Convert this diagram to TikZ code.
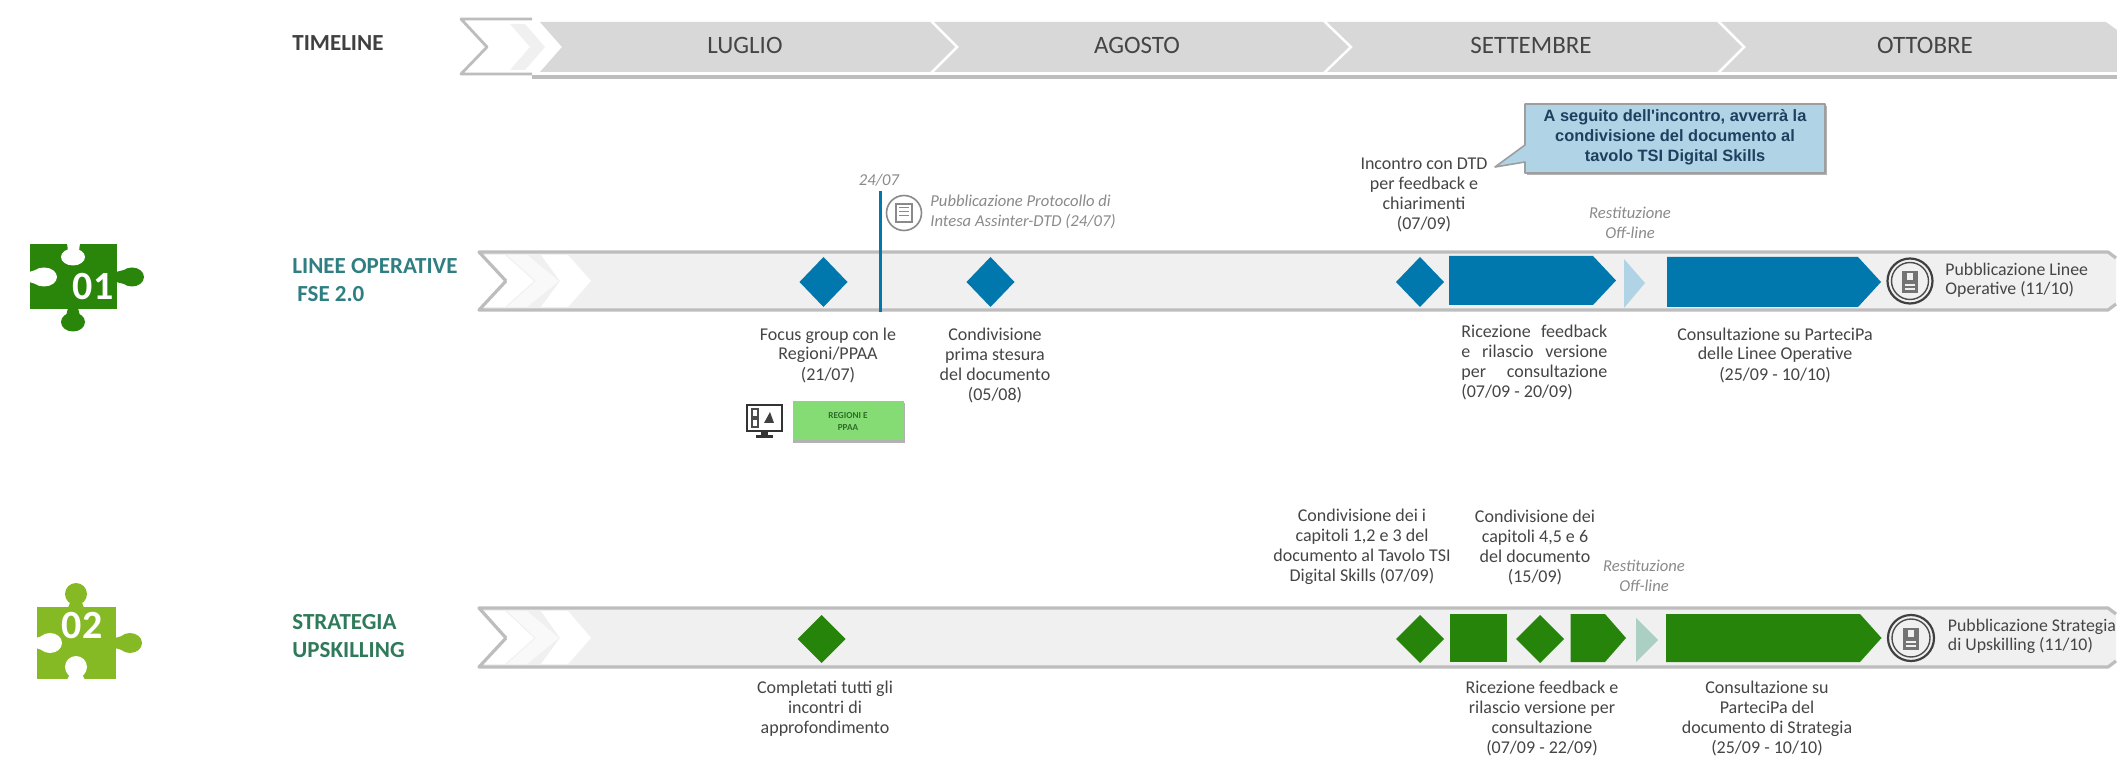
\documentclass[tikz,border=0pt]{standalone}
\usepackage{fontspec}
\setmainfont{Carlito}
\newfontfamily\arialfont{Liberation Sans}
\definecolor{txt}{HTML}{454545}
\definecolor{graytxt}{HTML}{8A8A8A}
\definecolor{band}{HTML}{D8D8D8}
\definecolor{barfill}{HTML}{F0F0F0}
\definecolor{barline}{HTML}{BDBDBD}
\definecolor{blueM}{HTML}{0078AE}
\definecolor{blueL}{HTML}{B0D4E6}
\definecolor{greenM}{HTML}{27840A}
\definecolor{greenL}{HTML}{ABCFC3}
\definecolor{puzzA}{HTML}{2A850B}
\definecolor{puzzB}{HTML}{86BA24}
\definecolor{tealT}{HTML}{2F7F82}
\definecolor{greenT}{HTML}{2F7A5A}
\definecolor{callT}{HTML}{1F3F5F}
\definecolor{regF}{HTML}{86DC74}
\definecolor{regT}{HTML}{2F6B2A}
\tikzset{
  x=0.5pt,y=-0.5pt,
  lbl/.style={inner sep=0pt,align=center,text=txt,font=\fontsize{9}{10}\selectfont},
  lblleft/.style={inner sep=0pt,align=left,text=txt,anchor=west,font=\fontsize{8.9}{9.6}\selectfont},
  grayital/.style={inner sep=0pt,align=center,text=graytxt,font=\fontsize{8.3}{10}\itshape\selectfont},
  month/.style={inner sep=0pt,text=txt,font=\fontsize{12.5}{14}\selectfont},
  rowtitle/.style={inner sep=0pt,anchor=west,font=\fontsize{11.5}{14}\bfseries\selectfont},
}
\newcommand{\mybar}[3]{%
  \fill[barfill] (479,#1) -- (2108,#1) -- (2116,#1+6) -- (2116,#2-6) -- (2108,#2) -- (479,#2) -- (506,#3) -- cycle;
  \fill[white] (481,#1+3) -- (505,#1+3) -- (534,#3) -- (505,#2-3) -- (481,#2-3) -- (507,#3) -- cycle;
  \fill[white!60!barfill] (507,#1+3) -- (527,#1+3) -- (559,#3) -- (527,#2-3) -- (507,#2-3) -- (536,#3) -- cycle;
  \fill[white] (541,#1+3) -- (568,#1+3) -- (591,#3) -- (568,#2-3) -- (541,#2-3) -- (560,#3) -- cycle;
  \draw[barline,line width=1.6pt,line join=round] (506,#3) -- (479,#1) -- (2108,#1) -- (2116,#1+6);
  \draw[barline,line width=1.6pt,line join=round] (506,#3) -- (479,#2) -- (2108,#2) -- (2116,#2-6);
}
\newcommand{\mydiamond}[4]{\fill[#1] (#2-24,#3) -- (#2,#3-#4) -- (#2+24,#3) -- (#2,#3+#4) -- cycle;}
\newcommand{\mypent}[6]{\fill[#1] (#2,#5) -- (#3,#5) -- (#4,#5/2+#6/2) -- (#3,#6) -- (#2,#6) -- cycle;}
\newcommand{\myicon}[3]{%
  \draw[black!75,line width=1.1pt,fill=barfill] (#1,#2) circle[radius=#3];
  \draw[black!70,line width=.7pt] (#1,#2) circle[radius=#3-4];
  \fill[black!55] (#1-8,#2-10) rectangle (#1+8,#2+12);
  \fill[barfill] (#1-3,#2-8) rectangle (#1+3,#2-1);
  \fill[barfill] (#1-5,#2+3) rectangle (#1+5,#2+5);
  \fill[barfill] (#1-5,#2+7) rectangle (#1+5,#2+9);
}
\begin{document}
\begin{tikzpicture}
\useasboundingbox (0,0) rectangle (2117,759);
\fill[white] (0,0) rectangle (2117,759);

% ---- puzzle 01
\fill[puzzA] (30,244) rectangle (117,309);
\fill[puzzA] (132,277) ellipse[x radius=12,y radius=9.5];
\fill[puzzA] (116,272) -- (124,270) -- (124,284) -- (116,282) -- cycle;
\fill[puzzA] (73,322) ellipse[x radius=12,y radius=9.5];
\fill[puzzA] (68,308) -- (78,308) -- (80,316) -- (66,316) -- cycle;
\fill[white] (73,257) ellipse[x radius=12,y radius=8.5];
\fill[white] (67,243) -- (80,243) -- (79,251) -- (68,251) -- cycle;
\fill[white] (44,277) ellipse[x radius=13,y radius=9.5];
\fill[white] (29,272) -- (36,270) -- (36,284) -- (29,282) -- cycle;
\node[inner sep=0pt,text=white,font=\fontsize{20}{22}\bfseries\selectfont] (p1) at (93,287) {01};

% ---- puzzle 02
\fill[puzzB] (37,607) rectangle (116,679);
\fill[puzzB] (76,594) ellipse[x radius=11,y radius=11];
\fill[puzzB] (71,600) -- (81,600) -- (84,608) -- (68,608) -- cycle;
\fill[puzzB] (130,643) ellipse[x radius=12,y radius=10];
\fill[puzzB] (115,638) -- (122,636) -- (122,650) -- (115,648) -- cycle;
\fill[white] (50,643) ellipse[x radius=12,y radius=10];
\fill[white] (36,638) -- (42,636) -- (42,650) -- (36,648) -- cycle;
\fill[white] (76,667) ellipse[x radius=11,y radius=11];
\fill[white] (71,672) -- (81,672) -- (85,680) -- (67,680) -- cycle;
\node[inner sep=0pt,text=white,font=\fontsize{20}{22}\bfseries\selectfont] (p2) at (82,626) {02};

% ---- row titles
\node[rowtitle,text=black!75] (tl) at (292,43) {TIMELINE};
\node[rowtitle,text=tealT] (lo) at (292,266) {LINEE OPERATIVE};
\node[rowtitle,text=tealT] (fse) at (297,294) {FSE 2.0};
\node[rowtitle,text=greenT] (st) at (292,622) {STRATEGIA};
\node[rowtitle,text=greenT] (up) at (292,650) {UPSKILLING};

% ---- timeline band
\fill[white] (461,20) -- (532,20) -- (532,73) -- (461,73) -- (487,47) -- cycle;
\fill[barfill] (510,24) -- (525,24) -- (545,47) -- (525,70) -- (510,70) -- (530,47) -- cycle;
\draw[barline,line width=1.4pt,line join=round] (532,19) -- (461,19) -- (487,47) -- (461,74) -- (532,74);
\draw[barline,line width=1.6pt] (532,77) -- (2117,77);
\fill[band] (540,22) -- (930,22) -- (955,47) -- (930,72) -- (540,72) -- (562,47) -- cycle;
\fill[band] (934,22) -- (1323,22) -- (1349,47) -- (1323,72) -- (934,72) -- (959,47) -- cycle;
\fill[band] (1327,22) -- (1717,22) -- (1742,47) -- (1717,72) -- (1327,72) -- (1353,47) -- cycle;
\fill[band] (1721,22) -- (2106,22) -- (2117,30) -- (2117,72) -- (1721,72) -- (1746,47) -- cycle;
\node[month] (m1) at (745,45) {LUGLIO};
\node[month] (m2) at (1137,45) {AGOSTO};
\node[month] (m3) at (1531,45) {SETTEMBRE};
\node[month] (m4) at (1925,45) {OTTOBRE};

% ---- bar 1
\mybar{252}{310}{281}
\mydiamond{blueM}{823.5}{282}{25}
\mydiamond{blueM}{990.5}{282}{25}
\mydiamond{blueM}{1420}{282}{25}
\mypent{blueM}{1449}{1593}{1616}{256}{305}
\fill[blueL] (1624,259) -- (1645,283) -- (1624,308) -- cycle;
\mypent{blueM}{1667}{1858}{1881}{257}{307}
\coordinate (vt) at (880,191); \coordinate (vb) at (880,312);
\draw[blueM,line width=1.5pt] (vt) -- (vb);
\myicon{1910}{281}{22.5}
\node[lblleft] (pl) at (1945,280) {Pubblicazione Linee\\Operative (11/10)};

% icon and note above bar 1
\node[grayital] (d24) at (879,180) {24/07};
\draw[graytxt,line width=.8pt,fill=white] (904,213) circle[radius=17.5];
\draw[graytxt,line width=.7pt] (896,204) rectangle (912,222);
\draw[graytxt,line width=.5pt] (899,208) -- (909,208) (899,212) -- (909,212) (899,216) -- (909,216);
\node[grayital,align=left,anchor=west] (prot) at (930,212) {Pubblicazione Protocollo di\\Intesa Assinter-DTD (24/07)};
\node[lbl] (inc) at (1424,195) {Incontro con DTD\\per feedback e\\chiarimenti\\(07/09)};
\node[grayital] (res1) at (1630,223) {Restituzione\\Off-line};

% callout
\fill[black!30] (1527,106) rectangle (1827,175);
\draw[black!38,line width=.8pt,fill=blueL,line join=round] (1525,104) -- (1825,104) -- (1825,173) -- (1525,173) -- (1525,162) -- (1495,167) -- (1525,145) -- cycle;
\node[inner sep=0pt,align=center,text=callT,font=\arialfont\fontsize{8.2}{10}\bfseries\selectfont] (call) at (1675,137) {A seguito dell'incontro, avverrà la\\condivisione del documento al\\tavolo TSI Digital Skills};

% labels below bar 1
\node[lbl] (fg) at (828,355) {Focus group con le\\Regioni/PPAA\\(21/07)};
\node[lbl] (cp) at (995,365) {Condivisione\\prima stesura\\del documento\\(05/08)};
\node[lbl,align=left,anchor=north west] (rf) at (1461,325) {\hbox to 73pt{Ricezione\hfill feedback}\\\hbox to 73pt{e\hfill rilascio\hfill versione}\\\hbox to 73pt{per\hfill consultazione}\\(07/09 - 20/09)};
\node[lbl] (cons) at (1775,355) {Consultazione su ParteciPa\\delle Linee Operative\\(25/09 - 10/10)};

% regioni box + monitor
\draw[black!80,line width=1.2pt,fill=white] (747,405) rectangle (782,431);
\fill[black!70] (751,408) rectangle (759,428);
\fill[white] (753,410) rectangle (757,416);
\fill[white] (753,420) rectangle (757,426);
\fill[black!75] (770,412) -- (774,423) -- (764,423) -- cycle;
\fill[black!80] (761,431) rectangle (768,435);
\fill[black!80] (756,435) rectangle (773,438);
\fill[black!30] (793,403) rectangle (905,443);
\node[fill=regF,minimum width=55.5pt,minimum height=19.5pt,inner sep=0pt,align=center,text=regT,font=\fontsize{4.6}{6}\bfseries\selectfont] (reg) at (848,421) {REGIONI E\\PPAA};

% ---- bar 2
\mybar{608}{667}{638}
\mydiamond{greenM}{821.5}{639}{24}
\mydiamond{greenM}{1420}{639}{24}
\fill[greenM] (1450,614) rectangle (1507,662);
\mydiamond{greenM}{1540}{639}{24}
\mypent{greenM}{1570.5}{1605}{1626}{614}{662}
\fill[greenL] (1636,618) -- (1658,640) -- (1636,662) -- cycle;
\mypent{greenM}{1666}{1860}{1881.5}{614}{662}
\myicon{1911}{638}{23}
\node[lblleft] (ps) at (1947.5,636) {Pubblicazione Strategia\\di Upskilling (11/10)};

\node[lbl] (c1) at (1362,547) {Condivisione dei i\\capitoli 1,2 e 3 del\\documento al Tavolo TSI\\Digital Skills (07/09)};
\node[lbl] (c2) at (1535,547) {Condivisione dei\\capitoli 4,5 e 6\\del documento\\(15/09)};
\node[grayital] (res2) at (1644,576) {Restituzione\\Off-line};
\node[lbl] (comp) at (825,709) {Completati tutti gli\\incontri di\\approfondimento};
\node[lbl] (rf2) at (1542,718) {Ricezione feedback e\\rilascio versione per\\consultazione\\(07/09 - 22/09)};
\node[lbl] (cons2) at (1767,718) {Consultazione su\\ParteciPa del\\documento di Strategia\\(25/09 - 10/10)};
\end{tikzpicture}
\end{document}
